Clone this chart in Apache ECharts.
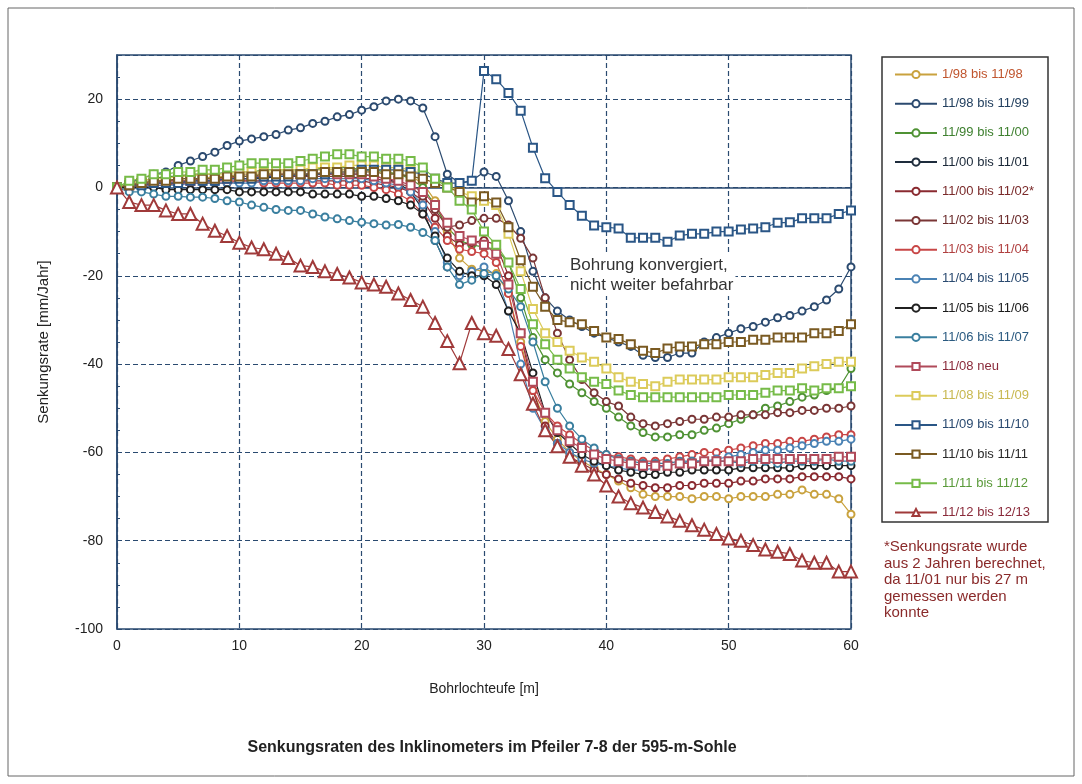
<!DOCTYPE html>
<html>
<head>
<meta charset="utf-8">
<script src="https://cdn.jsdelivr.net/npm/echarts@6/dist/echarts.min.js"></script>
<style>
  html, body { margin: 0; padding: 0; background: #fff; }
  #chart { width: 1082px; height: 784px; }
</style>
</head>
<body>
<div id="chart"></div>
<script>
// Bohrlochteufe [m]
const depth = [0,1,2,3,4,5,6,7,8,9,10,11,12,13,14,15,16,17,18,19,20,21,22,23,24,25,26,27,28,29,30,
  31,32,33,34,35,36,37,38,39,40,41,42,43,44,45,46,47,48,49,50,51,52,53,54,55,56,57,58,59,60];

// Senkungsraten [mm/Jahr] je Messzeitraum
const r_9801_9811 = [0,0.5,1,1.5,1.5,2,2,2,2.5,2.5, 3,3,3,3.5,3.5,3.5,4,4,4,4,
  4,3.5,3.5,3,2.5,1,-3,-10,-16,-18.5, -19,-19.5,-24,-35,-46,-53,-57,-60,-62,-63.5,
  -65,-66.5,-68,-69.5,-70,-70,-70,-70.5,-70,-70, -70.5,-70,-70,-70,-69.5,-69.5,-68.5,-69.5,-69.5,-70.5, -74];
const r_9811_9911 = [0,1,2,3,3.5,5,6,7,8,9.5, 10.5,11,11.5,12,13,13.5,14.5,15,16,16.5,
  17.5,18.3,19.6,20,19.6,18,11.5,3,1,1.5, 3.5,2.5,-3,-10,-19,-25,-28,-30,-31.5,-33,
  -34,-35,-36,-38,-38.5,-38.5,-37.5,-37.5,-35,-34, -33,-32,-31.5,-30.5,-29.5,-29,-28,-27,-25.5,-23, -18];
const r_9911_0011 = [0,1,1.5,2,2.5,2.5,3,3,3,3.5, 3.5,3.5,4,4,4,4,4,4.5,4.5,4.5,
  4,4,3.5,3,2,0,-4,-9,-12,-13, -13.5,-14,-17,-25,-34,-39,-42,-44.5,-46.5,-48.5,
  -50,-52,-54,-55.5,-56.5,-56.5,-56,-56,-55,-54.5, -53.5,-52.5,-51.5,-50,-49.5,-48.5,-47.5,-47,-46,-45.5, -41];
// nur bis 27 m gemessen
const r_0011_0111 = [0,0.5,0.5,1,1,1,1.5,1.5,1.5,2, 2,2,2,2.5,2.5,2.5,3,3,3,3,
  3,2.5,2,1,-1,-5,-12,-18];
const r_0011_0211 = [0,0,0.5,0.5,0.5,1,1,1,1,1, 1.5,1.5,1.5,1.5,1.5,1.5,1.5,1.5,1.5,1.5,
  1.5,1,0.5,0,-1,-3,-7,-11,-13,-12.5, -12,-13,-20,-33,-46,-54,-58,-61,-62.5,-64,
  -65,-66,-67,-67.5,-68,-68,-67.5,-67.5,-67,-67, -67,-66.5,-66.5,-66,-66,-66,-65.5,-65.5,-65.5,-65.5, -66];
const r_0211_0311 = [0,0.5,1,1,1.5,1.5,1.5,2,2,2, 2,2,2.5,2.5,2.5,2.5,2.5,2.5,2.5,2.5,
  2,2,1.5,1,0,-2,-5,-9,-8.5,-7.5, -7,-7,-8.5,-11.5,-16,-25,-33,-39,-43.5,-46.5,
  -48.5,-49.5,-52,-53.5,-54,-53.5,-53,-52.5,-52.5,-52, -52,-51.5,-51.5,-51.5,-51,-51,-50.5,-50.5,-50,-50, -49.5];
const r_0311_0411 = [0,0.5,0.5,1,1,1,1,1,1.5,1.5, 1.5,1.5,1,1,1,1,1,1,0.5,0.5,
  0.5,0,-0.5,-1.5,-3,-6,-9,-12,-14,-14.5, -15,-17,-24,-36,-46,-51,-54,-56,-58,-59.5,
  -60.5,-61,-61.5,-62,-62,-61.5,-61,-60.5,-60,-60, -59.5,-59,-58.5,-58,-58,-57.5,-57.5,-57,-56.5,-56, -56];
const r_0411_0511 = [0,0,0,0.5,0.5,0.5,1,1,1,1, 1,1,1.5,1.5,1.5,1.5,2,2,2,2,
  2,1.5,1,0.5,-1,-4,-10,-17,-20,-19, -18,-20,-28,-40,-50,-55,-58,-60,-61.5,-62.5,
  -63,-63.5,-64,-64,-63.5,-63,-62.5,-62,-62,-61.5, -61,-60.5,-60,-59.5,-59.5,-59,-58.5,-58,-57.5,-57.5, -57];
const r_0511_0611 = [0,0,0,0,-0.5,-0.5,-0.5,-0.5,-0.5,-0.5, -1,-1,-1,-1,-1,-1,-1.5,-1.5,-1.5,-1.5,
  -2,-2,-2.5,-3,-4,-6,-11,-16,-19,-20, -20,-22,-28,-33,-42,-51,-55.5,-58,-60.5,-62,
  -63,-64,-64.5,-65,-65,-64.5,-64.5,-64,-64,-64, -64,-63.5,-63.5,-63.5,-63.5,-63.5,-63,-63,-63,-63, -63];
const r_0611_0711 = [0,-1,-1,-1.5,-2,-2,-2.2,-2.2,-2.5,-3, -3.3,-4,-4.5,-5,-5.2,-5.2,-6,-6.7,-7.1,-7.5,
  -7.9,-8.2,-8.5,-8.4,-9,-10.2,-12,-18,-22,-21, -19.5,-20,-23,-27,-35,-44,-50,-54,-57,-59,
  -60.5,-61.5,-62,-62.5,-62.5,-62.5,-62,-62,-62,-62, -62,-62.5,-62,-62,-62.5,-62,-62,-62,-61.5,-62, -62];
const r_0811_neu = [0,0.5,1,1,1.5,1.5,1.5,2,2,2, 2.5,2.5,2.5,3,3,3,3,3,3,3,
  3,2.5,2,1.5,0.5,-1,-4,-8,-11,-12, -13,-15,-22,-33,-44,-51,-55,-57.5,-59,-60.5,
  -61.5,-62,-62.5,-63,-63,-63,-62.5,-62.5,-62,-62, -62,-62,-61.5,-61.5,-61.5,-61.5,-61.5,-61.5,-61.5,-61, -61];
const r_0811_0911 = [0,1,1.5,2,2,2.5,2.5,3,3,3, 3.5,3.5,3.5,4,4,4,4.5,4.5,4.5,5,
  5,5,4.5,4.5,4,3,2,0.5,-1,-2, -3,-4,-10.5,-19,-27.5,-33,-35,-37,-38.5,-39.5,
  -41,-43,-44,-44.5,-45,-44,-43.5,-43.5,-43.5,-43.5, -43,-43,-43,-42.5,-42,-42,-41,-40.5,-40,-39.5, -39.5];
const r_0911_1011 = [0,0.5,0.5,1,1,1,1.5,1.5,1.5,2, 2,2,2.5,2.5,2.5,3,3,3,3.5,3.5,
  4,4,4,4,3.5,3,2,1,1,1.5, 26.4,24.5,21.4,17.4,9,2.1,-1,-4,-6.4,-8.6,
  -9,-9.3,-11.4,-11.4,-11.4,-12.3,-10.9,-10.5,-10.5,-10, -10,-9.5,-9.3,-9,-8,-7.9,-7,-7,-7,-6, -5.2];
const r_1011_1111 = [0,0.5,1,1.5,1.5,2,2,2,2,2.5, 2.5,2.5,3,3,3,3,3,3.5,3.5,3.5,
  3.5,3.5,3,3,2.5,2,1,0,-1,-3.4, -2,-3.4,-9,-16.5,-22.5,-27,-30,-30.5,-31,-32.5,
  -34,-34.3,-35.5,-37,-37.5,-36.5,-36,-36,-35.5,-35.5, -35,-35,-34.5,-34.5,-34,-34,-34,-33,-33,-32.5, -31];
const r_1111_1211 = [0,1.5,2,3,3,3.5,3.5,4,4,4.5, 5,5.5,5.5,5.5,5.5,6,6.5,7,7.5,7.5,
  7,7,6.5,6.5,6,4.5,2,0,-3,-5, -10,-13,-17,-23,-31,-35.5,-39,-41,-43,-44,
  -44.5,-46,-47,-47.5,-47.5,-47.5,-47.5,-47.5,-47.5,-47.5, -47,-47,-47,-46.5,-46,-46,-45.5,-46,-45.5,-45.5, -45];
const r_1211_1312 = [0,-3.3,-4,-4,-5.2,-6,-6,-8.2,-9.8,-11, -12.5,-13.6,-14,-15,-16,-17.7,-18,-19,-19.6,-20.4,
  -21.5,-22,-22.5,-24,-25.5,-27,-30.7,-34.8,-39.8,-30.7, -33,-33.6,-36.6,-42.3,-49,-55,-58.6,-61,-63,-65,
  -67.5,-70,-71.5,-72.5,-73.5,-74.5,-75.5,-76.5,-77.5,-78.5, -79.5,-80,-81,-82,-82.5,-83,-84.5,-85,-85,-87, -87];

// Legende: Name, Werte, Linienfarbe, Textfarbe, Symbol
const seriesDefs = [
  ['1/98 bis 11/98',   r_9801_9811, '#c9a23e', '#c0552e', 'emptyCircle'],
  ['11/98 bis 11/99',  r_9811_9911, '#2b4a6f', '#23405f', 'emptyCircle'],
  ['11/99 bis 11/00',  r_9911_0011, '#4f9234', '#3f8030', 'emptyCircle'],
  ['11/00 bis 11/01',  r_0011_0111, '#1e2c3c', '#1a2838', 'emptyCircle'],
  ['11/00 bis 11/02*', r_0011_0211, '#8a2a30', '#7a2a2a', 'emptyCircle'],
  ['11/02 bis 11/03',  r_0211_0311, '#7a3636', '#6a2a2a', 'emptyCircle'],
  ['11/03 bis 11/04',  r_0311_0411, '#c84646', '#b04040', 'emptyCircle'],
  ['11/04 bis 11/05',  r_0411_0511, '#4a82b4', '#2a4a70', 'emptyCircle'],
  ['11/05 bis 11/06',  r_0511_0611, '#202020', '#1a1a1a', 'emptyCircle'],
  ['11/06 bis 11/07',  r_0611_0711, '#3a7f9f', '#2a5a80', 'emptyCircle'],
  ['11/08 neu',        r_0811_neu,  '#b04a5a', '#8a2a3a', 'emptyRect'],
  ['11/08 bis 11/09',  r_0811_0911, '#dccb5a', '#c8b850', 'emptyRect'],
  ['11/09 bis 11/10',  r_0911_1011, '#2a5686', '#2a4a70', 'emptyRect'],
  ['11/10 bis 11/11',  r_1011_1111, '#7a5a22', '#2a2a2a', 'emptyRect'],
  ['11/11 bis 11/12',  r_1111_1211, '#76bb48', '#5a9a3a', 'emptyRect'],
  ['11/12 bis 12/13',  r_1211_1312, '#a03a3a', '#8a2a3a', 'emptyTriangle']
];

const symbolSizes = { emptyCircle: 7, emptyRect: 8, emptyTriangle: 12 };

const chart = echarts.init(document.getElementById('chart'), null, { renderer: 'canvas' });

const series = seriesDefs.map(([name, values, color, , symbol]) => ({
  type: 'line',
  name,
  data: values.map((v, i) => [depth[i], v]),
  symbol,
  symbolSize: symbolSizes[symbol],
  showAllSymbol: true,
  lineStyle: { color, width: 1.2 },
  itemStyle: { color, borderColor: color, borderWidth: 1.2 },
  emphasis: { disabled: true },
  z: 3
}));

const gridColor = '#2a4a70';
const font = 'Liberation Sans, Arial, sans-serif';

chart.setOption({
  animation: false,
  backgroundColor: '#fff',
  textStyle: { fontFamily: font },
  title: {
    text: 'Senkungsraten des Inklinometers im Pfeiler 7-8 der 595-m-Sohle',
    left: 487, top: 735, textAlign: 'center',
    textStyle: { fontSize: 16, fontWeight: 'bold', color: '#222', fontFamily: font }
  },
  grid: { left: 117, top: 55, right: 231, bottom: 155, show: true, borderColor: gridColor, borderWidth: 1.5 },
  xAxis: {
    type: 'value', min: 0, max: 60, interval: 10,
    name: 'Bohrlochteufe [m]', nameLocation: 'middle', nameGap: 53,
    nameTextStyle: { fontSize: 14, color: '#222' },
    axisLine: { show: true, lineStyle: { color: gridColor, width: 1.5 } },
    axisTick: { show: true, inside: true, length: 4, lineStyle: { color: gridColor } },
    axisLabel: { fontSize: 14, color: '#222', margin: 10 },
    splitLine: { show: true, lineStyle: { color: gridColor, type: [5, 3], width: 1.2 } }
  },
  yAxis: {
    type: 'value', min: -100, max: 30, interval: 20,
    name: 'Senkungsrate [mm/Jahr]', nameLocation: 'middle', nameGap: 66,
    nameTextStyle: { fontSize: 15, color: '#222' },
    axisLine: { show: true, lineStyle: { color: gridColor, width: 1.5 } },
    axisTick: { show: true, inside: true, length: 4, lineStyle: { color: gridColor } },
    minorTick: { show: true, splitNumber: 4, length: 3, lineStyle: { color: gridColor } },
    axisLabel: { fontSize: 14, color: '#222', margin: 14, showMaxLabel: false },
    splitLine: { show: true, lineStyle: { color: gridColor, type: [5, 3], width: 1.2 } }
  },
  legend: {
    orient: 'vertical', left: 889, top: 63,
    itemWidth: 42, itemHeight: 9, itemGap: 16.2,
    selectedMode: false,
    textStyle: { fontSize: 13, fontFamily: font },
    data: seriesDefs.map(([name, , , textColor]) => ({ name, textStyle: { color: textColor } }))
  },
  graphic: [
    { type: 'rect', shape: { x: 8, y: 8, width: 1066, height: 768 }, style: { fill: 'none', stroke: '#666', lineWidth: 1 }, silent: true, z: -1 },
    { type: 'rect', shape: { x: 882, y: 57, width: 166, height: 465 }, style: { fill: 'none', stroke: '#333', lineWidth: 1.5 }, silent: true },
    { type: 'text', left: 568, top: 254, silent: true, z: 2,
      style: { text: 'Bohrung konvergiert,\nnicht weiter befahrbar', font: '17px ' + font, fill: '#333', lineHeight: 20,
        backgroundColor: '#fff', padding: [1, 2, 1, 2] } },
    { type: 'text', left: 884, top: 539, silent: true,
      style: { text: '*Senkungsrate wurde\naus 2 Jahren berechnet,\nda 11/01 nur bis 27 m\ngemessen werden\nkonnte', font: '15px ' + font, fill: '#8a2a2a', lineHeight: 16.5 } }
  ],
  series
});
</script>
</body>
</html>
